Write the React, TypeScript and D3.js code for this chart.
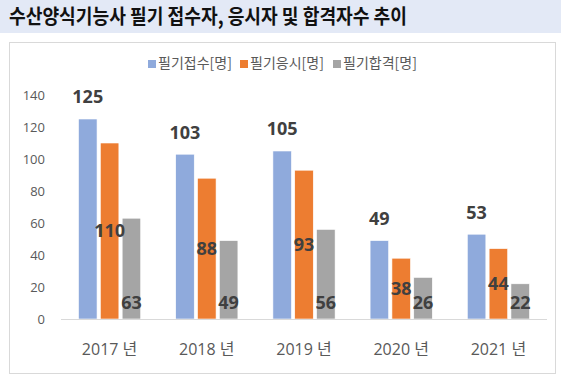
import React from "react";
import * as d3 from "d3";

const title = "수산양식기능사 필기 접수자, 응시자 및 합격자수 추이";
const categories = ["2017 년", "2018 년", "2019 년", "2020 년", "2021 년"];
const seriesNames = ["필기접수[명]", "필기응시[명]", "필기합격[명]"];
const applied = [125, 103, 105, 49, 53];
const took = [110, 88, 93, 38, 44];
const passed = [63, 49, 56, 26, 22];
const yTicks = [0, 20, 40, 60, 80, 100, 120, 140];

const colors = ["#8FAADC", "#ED7D31", "#A5A5A5"];
const labelPos = ["outside", "center", "base"];

const W = 561;
const H = 381;
const FONT = "'Noto Sans CJK KR', 'Noto Sans', sans-serif";
const NUMFONT = "'Open Sans', 'Noto Sans CJK KR', sans-serif";

export default function App() {
  const values = [applied, took, passed];
  const x = d3.scaleBand<string>().domain(categories).range([61, 547]).padding(0);
  const y = d3.scaleLinear().domain([0, 140]).range([319, 95]);
  const step = x.step();
  const groupW = step * 0.64;
  const inner = d3
    .scaleBand<string>()
    .domain(seriesNames)
    .range([(step - groupW) / 2, (step + groupW) / 2])
    .paddingInner(0.15);
  const bw = inner.bandwidth();

  const legendX = [148, 240, 333];

  return (
    <svg
      width={W}
      height={H}
      style={{ position: "absolute", left: 0, top: 0, background: "#fff" }}
      fontFamily={FONT}
    >
      <rect x={0} y={0} width={W} height={33} fill="#E3E9F6" />
      <text
        x={9}
        y={24}
        fontSize={20}
        fontWeight="bold"
        fill="#111"
        textLength={398}
        lengthAdjust="spacingAndGlyphs"
      >
        {title}
      </text>
      <rect x={9.5} y={42.5} width={546} height={331} fill="#fff" stroke="#D9D9D9" />

      {/* legend */}
      {seriesNames.map((s, i) => (
        <g key={s}>
          <rect x={legendX[i]} y={60} width={8} height={8} fill={colors[i]} />
          <text x={legendX[i] + 10} y={68} fontSize={14} fill="#595959">
            {s}
          </text>
        </g>
      ))}

      {/* y ticks */}
      {yTicks.map((t) => (
        <text
          key={t}
          x={45}
          y={y(t)}
          dy="0.35em"
          textAnchor="end"
          fontSize={13}
          fill="#595959"
          fontFamily={NUMFONT}
        >
          {t}
        </text>
      ))}

      {/* bars */}
      {categories.map((c, ci) =>
        seriesNames.map((s, si) => {
          const v = values[si][ci];
          const bx = (x(c) as number) + (inner(s) as number);
          return (
            <rect
              key={c + s}
              x={bx}
              y={y(v)}
              width={bw}
              height={y(0) - y(v)}
              fill={colors[si]}
              stroke="#fff"
              strokeWidth={0.6}
            />
          );
        })
      )}

      <line x1={61} x2={547} y1={319.5} y2={319.5} stroke="#D9D9D9" strokeWidth={1} />

      {/* data labels */}
      {categories.map((c, ci) =>
        seriesNames.map((s, si) => {
          const v = values[si][ci];
          const cx = (x(c) as number) + (inner(s) as number) + bw / 2;
          let ty: number;
          if (labelPos[si] === "outside") ty = y(v) - 22;
          else if (labelPos[si] === "center") ty = (y(v) + y(0)) / 2;
          else ty = y(0) - 16;
          return (
            <text
              key={"l" + c + s}
              x={cx}
              y={ty}
              dy="0.35em"
              textAnchor="middle"
              fontSize={18}
              fontWeight="bold"
              fill="#404040"
              fontFamily={NUMFONT}
            >
              {v}
            </text>
          );
        })
      )}

      {/* category labels */}
      {categories.map((c) => (
        <text
          key={"c" + c}
          x={(x(c) as number) + step / 2}
          y={349}
          dy="0.35em"
          textAnchor="middle"
          fontSize={16}
          fill="#595959"
          fontFamily={NUMFONT}
        >
          {c}
        </text>
      ))}
    </svg>
  );
}
